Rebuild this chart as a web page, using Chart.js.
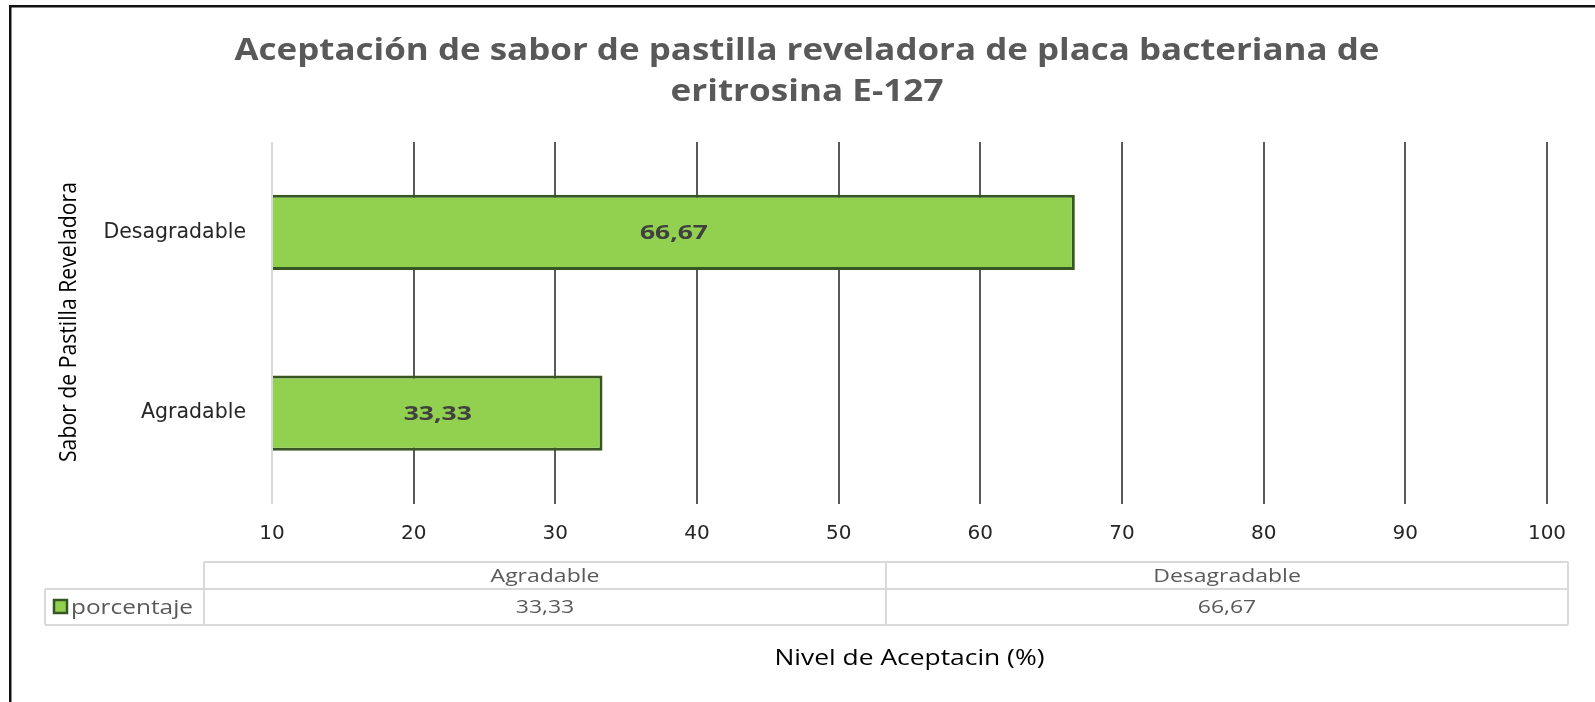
<!DOCTYPE html>
<html>
<head>
<meta charset="utf-8">
<title>Aceptación de sabor</title>
<script src="https://cdn.jsdelivr.net/npm/chart.js@4.4.1/dist/chart.umd.min.js"></script>
<style>
  html, body { margin: 0; padding: 0; background: #fff; }
  canvas { display: block; }
</style>
</head>
<body>
<canvas id="chart" width="1595" height="702"></canvas>
<script>
// datos del grafico
const categories = ['Agradable', 'Desagradable'];
const porcentaje = [33.33, 66.67];
const seriesName = 'porcentaje';
const xMin = 10;
const xMax = 100;
const xStep = 10;
const titleLines = ['Aceptación de sabor de pastilla reveladora de placa bacteriana de', 'eritrosina E-127'];
const yTitle = 'Sabor de Pastilla Reveladora';
const xTitle = 'Nivel de Aceptacin (%)';

const FONT = "'Open Sans', 'DejaVu Sans', sans-serif";
const TICK_FONT = "'DejaVu Sans', sans-serif";
const fillColor = '#92D050';
const edgeColor = '#375623';

function fmt(v) {
    return v.toFixed(2).replace('.', ',');
}

// dibuja texto ajustado a un ancho dado (el original esta algo estirado)
function fitText(ctx, text, x, y, width, align) {
    const w = ctx.measureText(text).width;
    const sx = width / w;
    ctx.save();
    ctx.translate(x, y);
    ctx.scale(sx, 1);
    ctx.textAlign = align || 'center';
    ctx.textBaseline = 'middle';
    ctx.fillText(text, 0, 0);
    ctx.restore();
}

const decorPlugin = {
    id: 'decor',
    beforeDraw(chart) {
        const ctx = chart.ctx;
        ctx.save();
        ctx.fillStyle = '#fff';
        ctx.fillRect(0, 0, chart.width, chart.height);
        // marco negro (solo arriba e izquierda visibles)
        ctx.fillStyle = '#111';
        ctx.fillRect(9, 5, chart.width - 9, 2.5);
        ctx.fillRect(9, 5, 2.5, chart.height - 5);
        ctx.restore();
    },
    afterDatasetsDraw(chart) {
        const ctx = chart.ctx;
        const meta = chart.getDatasetMeta(0);
        ctx.save();
        ctx.fillStyle = '#404040';
        ctx.font = "bold 20px " + FONT;
        meta.data.forEach((bar, i) => {
            const cx = (bar.x + bar.base) / 2;
            fitText(ctx, fmt(porcentaje[i]), cx, bar.y + 1, 68);
        });
        ctx.restore();
    },
    afterDraw(chart) {
        const ctx = chart.ctx;
        const area = chart.chartArea;
        ctx.save();

        // titulo
        ctx.fillStyle = '#595959';
        ctx.font = "bold 31px " + FONT;
        fitText(ctx, titleLines[0], 807, 51, 1145);
        fitText(ctx, titleLines[1], 807, 92, 273);

        // titulo eje Y
        ctx.fillStyle = '#000';
        ctx.font = "23px " + FONT;
        ctx.save();
        ctx.translate(69, 322);
        ctx.rotate(-Math.PI / 2);
        fitText(ctx, yTitle, 0, 0, 280);
        ctx.restore();

        // titulo eje X
        ctx.font = "21px " + FONT;
        fitText(ctx, xTitle, (area.left + area.right) / 2, 659, 270);

        // tabla de datos
        const tLeft = 204, tRight = 1568, legLeft = 45;
        const r0 = 562, r1 = 589, r2 = 625;
        const colW = (tRight - tLeft) / categories.length;
        ctx.strokeStyle = '#d9d9d9';
        ctx.lineWidth = 2;
        ctx.beginPath();
        ctx.moveTo(tLeft, r0); ctx.lineTo(tRight, r0);
        ctx.moveTo(legLeft, r1); ctx.lineTo(tRight, r1);
        ctx.moveTo(legLeft, r2); ctx.lineTo(tRight, r2);
        ctx.moveTo(legLeft, r1); ctx.lineTo(legLeft, r2);
        for (let i = 0; i <= categories.length; i++) {
            const x = tLeft + i * colW;
            ctx.moveTo(x, r0); ctx.lineTo(x, r2);
        }
        ctx.stroke();

        ctx.fillStyle = '#595959';
        ctx.font = "19px " + FONT;
        const stretch = 1.21;
        categories.forEach((c, i) => {
            const cx = tLeft + (i + 0.5) * colW;
            const hw = ctx.measureText(c).width;
            fitText(ctx, c, cx, (r0 + r1) / 2 + 1, hw * stretch);
            const v = fmt(porcentaje[i]);
            const vw = ctx.measureText(v).width;
            fitText(ctx, v, cx, (r1 + r2) / 2 + 1, vw * stretch);
        });

        // clave de leyenda
        ctx.fillStyle = fillColor;
        ctx.strokeStyle = edgeColor;
        ctx.lineWidth = 2.5;
        ctx.fillRect(54, 600, 13, 13);
        ctx.strokeRect(54, 600, 13, 13);
        ctx.fillStyle = '#595959';
        ctx.font = "20px " + FONT;
        fitText(ctx, seriesName, 71, (r1 + r2) / 2 + 1, 122, 'left');

        ctx.restore();
    }
};

const ctx = document.getElementById('chart').getContext('2d');
new Chart(ctx, {
    type: 'bar',
    data: {
        labels: categories,
        datasets: [{
            label: seriesName,
            data: porcentaje,
            base: xMin,
            backgroundColor: fillColor,
            borderColor: edgeColor,
            borderWidth: 3,
            categoryPercentage: 1,
            barPercentage: 0.415
        }]
    },
    options: {
        indexAxis: 'y',
        responsive: false,
        animation: false,
        layout: { padding: { left: 0, top: 142, right: 48, bottom: 0 } },
        plugins: {
            legend: { display: false },
            tooltip: { enabled: false },
            title: { display: false }
        },
        scales: {
            x: {
                min: xMin,
                max: xMax,
                ticks: {
                    stepSize: xStep,
                    color: '#262626',
                    padding: 18,
                    font: { family: TICK_FONT, size: 20 }
                },
                grid: {
                    drawTicks: false,
                    lineWidth: 2,
                    color: c => (c.tick && c.tick.value === xMin) ? '#d9d9d9' : '#595959'
                },
                border: { display: false },
                afterFit: s => { s.height = 198.5; }
            },
            y: {
                reverse: true,
                ticks: {
                    color: '#262626',
                    padding: 26,
                    font: { family: TICK_FONT, size: 20.5 }
                },
                grid: { display: false, drawTicks: false },
                border: { display: false },
                afterFit: s => { s.width = 272; }
            }
        }
    },
    plugins: [decorPlugin]
});
</script>
</body>
</html>
